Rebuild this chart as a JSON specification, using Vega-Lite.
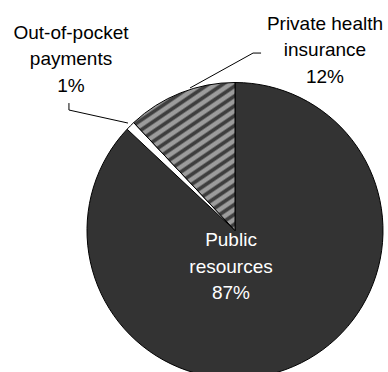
{
  "$schema": "https://vega.github.io/schema/vega-lite/v6.json",
  "width": 306,
  "height": 283,
  "autosize": {"type": "none"},
  "padding": {"left": 82, "top": 89, "right": 0, "bottom": 0},
  "background": "white",
  "config": {"view": {"stroke": null}},
  "datasets": {
    "shares": [
      {"source": "Public resources", "pct": 87, "ord": 1},
      {"source": "Out-of-pocket payments", "pct": 1, "ord": 2},
      {"source": "Private health insurance", "pct": 12, "ord": 3}
    ],
    "leaders": [
      {"leader": "oop", "seq": 1, "lx": -1.122, "ly": 0.861},
      {"leader": "oop", "seq": 2, "lx": -1.122, "ly": 0.814},
      {"leader": "oop", "seq": 3, "lx": -0.723, "ly": 0.726},
      {"leader": "phi", "seq": 1, "lx": 0.176, "ly": 1.199},
      {"leader": "phi", "seq": 2, "lx": 0.122, "ly": 1.199},
      {"leader": "phi", "seq": 3, "lx": -0.304, "ly": 0.963}
    ],
    "labels": [
      {"text": "Out-of-pocket\npayments\n1%", "lx": -1.108, "ly": 1.294},
      {"text": "Private health\ninsurance\n12%", "lx": 0.608, "ly": 1.355},
      {"text": "Public\nresources\n87%", "lx": -0.027, "ly": -0.105}
    ]
  },
  "layer": [
    {
      "data": {"name": "shares"},
      "mark": {"type": "arc", "outerRadius": 148, "stroke": "black", "strokeWidth": 1},
      "encoding": {
        "theta": {"field": "pct", "type": "quantitative", "stack": true},
        "order": {"field": "ord", "type": "quantitative"},
        "fill": {
          "condition": {
            "test": "datum.source === 'Private health insurance'",
            "value": {
              "gradient": "linear",
              "x1": 0, "y1": 0, "x2": 0.5607, "y2": 1.2045,
              "stops": [
                {"offset": 0, "color": "#9c9c9c"}, {"offset": 0.00909, "color": "#3e3e3e"}, {"offset": 0.02045, "color": "#3e3e3e"}, {"offset": 0.02955, "color": "#9c9c9c"},
                {"offset": 0.04545, "color": "#9c9c9c"}, {"offset": 0.05455, "color": "#3e3e3e"}, {"offset": 0.06591, "color": "#3e3e3e"}, {"offset": 0.075, "color": "#9c9c9c"},
                {"offset": 0.09091, "color": "#9c9c9c"}, {"offset": 0.1, "color": "#3e3e3e"}, {"offset": 0.11136, "color": "#3e3e3e"}, {"offset": 0.12045, "color": "#9c9c9c"},
                {"offset": 0.13636, "color": "#9c9c9c"}, {"offset": 0.14545, "color": "#3e3e3e"}, {"offset": 0.15682, "color": "#3e3e3e"}, {"offset": 0.16591, "color": "#9c9c9c"},
                {"offset": 0.18182, "color": "#9c9c9c"}, {"offset": 0.19091, "color": "#3e3e3e"}, {"offset": 0.20227, "color": "#3e3e3e"}, {"offset": 0.21136, "color": "#9c9c9c"},
                {"offset": 0.22727, "color": "#9c9c9c"}, {"offset": 0.23636, "color": "#3e3e3e"}, {"offset": 0.24773, "color": "#3e3e3e"}, {"offset": 0.25682, "color": "#9c9c9c"},
                {"offset": 0.27273, "color": "#9c9c9c"}, {"offset": 0.28182, "color": "#3e3e3e"}, {"offset": 0.29318, "color": "#3e3e3e"}, {"offset": 0.30227, "color": "#9c9c9c"},
                {"offset": 0.31818, "color": "#9c9c9c"}, {"offset": 0.32727, "color": "#3e3e3e"}, {"offset": 0.33864, "color": "#3e3e3e"}, {"offset": 0.34773, "color": "#9c9c9c"},
                {"offset": 0.36364, "color": "#9c9c9c"}, {"offset": 0.37273, "color": "#3e3e3e"}, {"offset": 0.38409, "color": "#3e3e3e"}, {"offset": 0.39318, "color": "#9c9c9c"},
                {"offset": 0.40909, "color": "#9c9c9c"}, {"offset": 0.41818, "color": "#3e3e3e"}, {"offset": 0.42955, "color": "#3e3e3e"}, {"offset": 0.43864, "color": "#9c9c9c"},
                {"offset": 0.45455, "color": "#9c9c9c"}, {"offset": 0.46364, "color": "#3e3e3e"}, {"offset": 0.475, "color": "#3e3e3e"}, {"offset": 0.48409, "color": "#9c9c9c"},
                {"offset": 0.5, "color": "#9c9c9c"}, {"offset": 0.50909, "color": "#3e3e3e"}, {"offset": 0.52045, "color": "#3e3e3e"}, {"offset": 0.52955, "color": "#9c9c9c"},
                {"offset": 0.54545, "color": "#9c9c9c"}, {"offset": 0.55455, "color": "#3e3e3e"}, {"offset": 0.56591, "color": "#3e3e3e"}, {"offset": 0.575, "color": "#9c9c9c"},
                {"offset": 0.59091, "color": "#9c9c9c"}, {"offset": 0.6, "color": "#3e3e3e"}, {"offset": 0.61136, "color": "#3e3e3e"}, {"offset": 0.62045, "color": "#9c9c9c"},
                {"offset": 0.63636, "color": "#9c9c9c"}, {"offset": 0.64545, "color": "#3e3e3e"}, {"offset": 0.65682, "color": "#3e3e3e"}, {"offset": 0.66591, "color": "#9c9c9c"},
                {"offset": 0.68182, "color": "#9c9c9c"}, {"offset": 0.69091, "color": "#3e3e3e"}, {"offset": 0.70227, "color": "#3e3e3e"}, {"offset": 0.71136, "color": "#9c9c9c"},
                {"offset": 0.72727, "color": "#9c9c9c"}, {"offset": 0.73636, "color": "#3e3e3e"}, {"offset": 0.74773, "color": "#3e3e3e"}, {"offset": 0.75682, "color": "#9c9c9c"},
                {"offset": 0.77273, "color": "#9c9c9c"}, {"offset": 0.78182, "color": "#3e3e3e"}, {"offset": 0.79318, "color": "#3e3e3e"}, {"offset": 0.80227, "color": "#9c9c9c"},
                {"offset": 0.81818, "color": "#9c9c9c"}, {"offset": 0.82727, "color": "#3e3e3e"}, {"offset": 0.83864, "color": "#3e3e3e"}, {"offset": 0.84773, "color": "#9c9c9c"},
                {"offset": 0.86364, "color": "#9c9c9c"}, {"offset": 0.87273, "color": "#3e3e3e"}, {"offset": 0.88409, "color": "#3e3e3e"}, {"offset": 0.89318, "color": "#9c9c9c"},
                {"offset": 0.90909, "color": "#9c9c9c"}, {"offset": 0.91818, "color": "#3e3e3e"}, {"offset": 0.92955, "color": "#3e3e3e"}, {"offset": 0.93864, "color": "#9c9c9c"},
                {"offset": 0.95455, "color": "#9c9c9c"}, {"offset": 0.96364, "color": "#3e3e3e"}, {"offset": 0.975, "color": "#3e3e3e"}, {"offset": 0.98409, "color": "#9c9c9c"},
                {"offset": 1, "color": "#9c9c9c"}
              ]
            }
          },
          "field": "source",
          "type": "nominal",
          "scale": {
            "domain": ["Public resources", "Out-of-pocket payments", "Private health insurance"],
            "range": ["#333333", "#ffffff", "#999999"]
          },
          "legend": null
        }
      }
    },
    {
      "data": {"name": "leaders"},
      "mark": {"type": "line", "color": "black", "strokeWidth": 1},
      "encoding": {
        "x": {"field": "lx", "type": "quantitative", "scale": {"domain": [-1.0338, 1.0338], "nice": false, "zero": false}, "axis": null},
        "y": {"field": "ly", "type": "quantitative", "scale": {"domain": [-0.9561, 0.9561], "nice": false, "zero": false}, "axis": null},
        "detail": {"field": "leader", "type": "nominal"},
        "order": {"field": "seq", "type": "quantitative"}
      }
    },
    {
      "data": {"name": "labels"},
      "mark": {"type": "text", "font": "Liberation Sans", "fontSize": 19, "lineHeight": 26.5, "lineBreak": "\n", "align": "center", "baseline": "alphabetic"},
      "encoding": {
        "x": {"field": "lx", "type": "quantitative", "scale": {"domain": [-1.0338, 1.0338], "nice": false, "zero": false}, "axis": null},
        "y": {"field": "ly", "type": "quantitative", "scale": {"domain": [-0.9561, 0.9561], "nice": false, "zero": false}, "axis": null},
        "text": {"field": "text", "type": "nominal"},
        "color": {"condition": {"test": "indexof(datum.text, 'Public') === 0", "value": "white"}, "value": "black"}
      }
    }
  ]
}
